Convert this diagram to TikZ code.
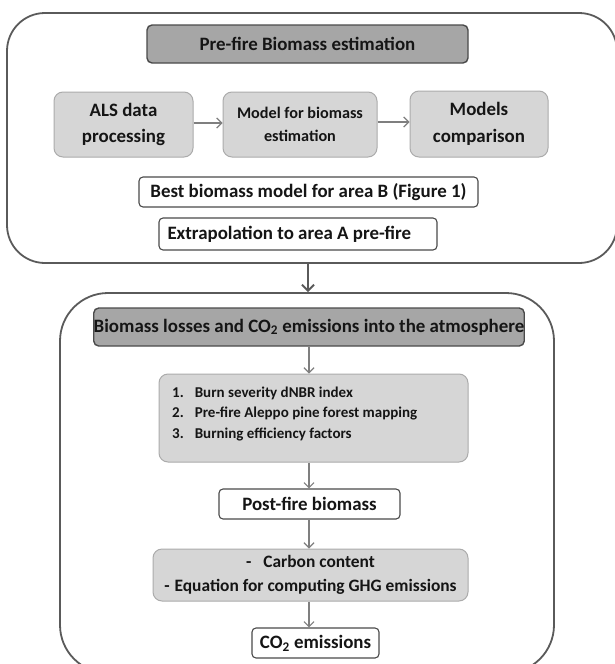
\documentclass[tikz,border=0pt]{standalone}
\usepackage{fontspec}
\setmainfont{Carlito}
\usetikzlibrary{arrows.meta}
\definecolor{darkfill}{HTML}{A6A6A6}
\definecolor{lightfill}{HTML}{D6D6D6}
\definecolor{lightedge}{HTML}{ABABAB}
\definecolor{darkedge}{HTML}{4A4A4A}
\definecolor{outeredge}{HTML}{5A5A5A}
\definecolor{arrowgray}{HTML}{7F7F7F}
\definecolor{txt}{HTML}{151515}
\tikzset{
  x=1pt, y=-1pt,
  outerbox/.style={draw=outeredge, line width=1.8pt, rounded corners=38pt, inner sep=0pt},
  headbox/.style={draw=darkedge, fill=darkfill, line width=1.4pt, rounded corners=5pt, inner sep=0pt, text=txt, font=\bfseries\fontsize{18.9}{22}\selectfont},
  graybox/.style={draw=lightedge, fill=lightfill, line width=1pt, rounded corners=9pt, inner sep=0pt, text=txt, align=center},
  whitebox/.style={draw=darkedge, fill=white, line width=1.1pt, rounded corners=4pt, inner sep=0pt, text=txt, font=\bfseries\fontsize{18.9}{22}\selectfont},
  flow/.style={draw=arrowgray, line width=1.2pt, -{Straight Barb[length=5pt,width=10pt]}},
  bigflow/.style={draw=outeredge, line width=2.4pt, -{Straight Barb[length=6pt,width=12pt,line width=2pt]}},
}
\begin{document}
\begin{tikzpicture}
\useasboundingbox (0,0) rectangle (614,664);
% outer boxes
\node[outerbox, minimum width=610pt, minimum height=250pt] (top) at (312,138) {};
\node[outerbox, minimum width=494pt, minimum height=380pt, rounded corners=48pt] (bottom) at (307,483) {};
% upper panel
\node[headbox, minimum width=321pt, minimum height=38pt] (title1) at (307.5,44) {Pre-fire Biomass estimation};
\node[graybox, minimum width=139pt, minimum height=65pt, font=\bfseries\fontsize{18.9}{26.5}\selectfont] (als) at (123.5,124.5) {ALS data\\processing};
\node[graybox, minimum width=154pt, minimum height=65pt, font=\bfseries\fontsize{16.2}{23}\selectfont] (model) at (300,124.5) {Model for biomass\\estimation};
\node[graybox, minimum width=138pt, minimum height=66pt, font=\bfseries\fontsize{18.9}{26.5}\selectfont] (comp) at (479,124) {Models\\comparison};
\node[whitebox, minimum width=339pt, minimum height=30pt] (best) at (308.5,192) {Best biomass model for area B (Figure 1)};
\node[whitebox, minimum width=278pt, minimum height=32pt] (extrap) at (298,234) {\makebox[261pt][l]{Extrapolation to area A pre-fire}};
\draw[flow] (als.east |- 0,123) -- (model.west |- 0,123);
\draw[flow] (model.east |- 0,122) -- (comp.west |- 0,122);
% connector between panels
\draw[bigflow] (top.south -| 308,0) -- (bottom.north -| 308,0);
% lower panel
\node[headbox, minimum width=430pt, minimum height=38pt] (title2) at (309,327) {Biomass losses and CO\textsubscript{2} emissions into the atmosphere};
\node[graybox, minimum width=309pt, minimum height=88pt] (list) at (313.5,418) {};
\node[anchor=west, inner sep=0pt, text=txt, font=\bfseries\fontsize{15}{20.5}\selectfont] (listtext) at (172,413.5)
  {\begin{tabular}{@{}l@{\hspace{11pt}}l@{}}
   1. & Burn severity dNBR index\\
   2. & Pre-fire Aleppo pine forest mapping\\
   3. & Burning efficiency factors
   \end{tabular}};
\node[whitebox, minimum width=181pt, minimum height=30pt] (post) at (309.5,504) {Post-fire biomass};
\node[graybox, minimum width=315pt, minimum height=52pt, font=\bfseries\fontsize{17.4}{24}\selectfont] (carbon) at (310.5,575)
  {-\hspace{12pt}Carbon content\\-\hspace{5pt}Equation for computing GHG emissions};
\node[whitebox, minimum width=127pt, minimum height=30pt] (co2) at (315.5,643) {CO\textsubscript{2} emissions};
\draw[flow] (title2.south -| 309,0) -- (list.north -| 309,0);
\draw[flow] (list.south -| 309,0) -- (post.north -| 309,0);
\draw[flow] (post.south -| 309,0) -- (carbon.north -| 309,0);
\draw[flow] (carbon.south -| 309,0) -- (co2.north -| 309,0);
\end{tikzpicture}
\end{document}
